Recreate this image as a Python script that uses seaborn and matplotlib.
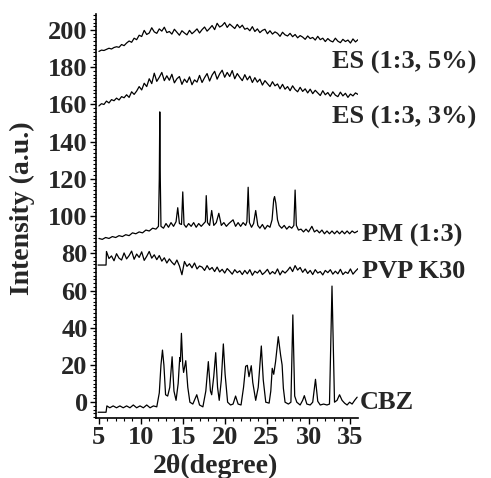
import numpy as np
import pandas as pd
import matplotlib
matplotlib.use("Agg")
import matplotlib.pyplot as plt
import seaborn as sns
from matplotlib.ticker import MultipleLocator

# ES (1:3, 5%) - read every 0.3 deg from 5.0 to 35.9
es5_int = [188.5, 189.2, 189.0, 189.6, 190.2, 189.8, 190.6, 191.0, 190.7, 192.2,
           191.6, 193.0, 194.1, 193.4, 195.6, 194.8, 197.2, 196.5, 199.8, 197.6,
           198.4, 201.2, 199.0, 198.2, 200.6, 199.4, 201.5, 198.6, 199.2, 197.8,
           200.4, 198.8, 197.2, 199.6, 198.4, 197.4, 199.8, 198.0, 199.2, 200.6,
           198.4, 200.2, 201.6, 199.4, 200.8, 202.4, 200.2, 203.6, 201.6, 202.4,
           204.0, 201.4, 203.2, 202.0, 200.8, 203.0, 201.2, 202.6, 200.4, 201.0,
           199.6, 201.8, 199.2, 200.6, 198.6, 199.8, 200.4, 198.0, 199.6, 197.8,
           199.0, 198.2, 196.6, 198.8, 197.4, 196.8, 198.2, 196.4, 197.6, 195.8,
           197.0, 196.2, 195.0, 196.8, 195.4, 196.0, 194.6, 196.6, 194.8, 195.6,
           193.8, 195.4, 194.2, 193.6, 195.6, 194.0, 193.2, 195.0, 193.8, 194.6,
           193.0, 195.2, 193.6, 194.8]

# ES (1:3, 3%) - same grid
es3_int = [159.2, 160.4, 160.0, 161.8, 160.8, 162.6, 162.0, 163.4, 162.4, 164.2,
           163.6, 165.2, 163.8, 166.8, 165.4, 167.2, 169.6, 167.8, 171.4, 169.6,
           173.8, 171.2, 176.8, 172.4, 174.6, 177.2, 172.8, 175.4, 173.0, 176.2,
           171.6, 173.8, 175.0, 170.8, 173.6, 171.8, 174.8, 170.6, 173.2, 172.0,
           175.6, 171.8, 174.4, 176.6, 172.6, 175.8, 177.8, 173.6, 176.4, 178.4,
           174.6, 177.2, 175.0, 178.2, 173.8, 176.6, 174.6, 172.8, 176.0, 173.2,
           175.2, 171.8, 174.4, 172.0, 173.6, 170.4, 172.8, 171.2, 169.6, 172.2,
           170.0, 171.0, 168.4, 170.8, 168.2, 169.6, 167.4, 170.0, 168.0, 166.8,
           169.2, 167.0, 168.4, 166.2, 168.2, 165.8, 167.6, 166.2, 164.8, 167.4,
           165.2, 166.4, 164.4, 166.8, 165.0, 164.2, 166.6, 164.6, 166.0, 163.8,
           165.6, 164.6, 166.2, 165.4]

# PVP K30 - flat lead-in, then every 0.3 deg from 5.9 to 35.9
pvp_lead_x = [4.9, 5.85]
pvp_lead_int = [73.7, 73.7]
pvp_int = [81.0, 77.2, 78.6, 76.0, 79.8, 77.4, 76.4, 80.2, 77.0, 78.8,
           81.2, 76.8, 79.6, 77.8, 80.8, 76.2, 78.4, 81.0, 77.4, 79.2,
           76.6, 78.8, 75.8, 77.6, 74.8, 77.0, 75.2, 73.8, 76.4, 73.2,
           68.5, 75.6, 73.0, 74.4, 72.2, 74.8, 71.6, 73.2, 72.6, 70.8,
           73.4, 71.2, 72.4, 70.2, 72.6, 70.0, 71.4, 69.4, 71.8, 70.4,
           68.8, 71.2, 69.6, 70.6, 68.6, 70.8, 69.0, 71.2, 68.2, 70.4,
           69.4, 71.0, 68.6, 69.8, 71.4, 68.8, 70.2, 69.0, 71.6, 68.4,
           70.6, 69.4, 70.8, 72.6, 70.2, 73.4, 71.0, 72.4, 69.8, 71.6,
           69.2, 70.8, 68.6, 71.2, 69.4, 70.2, 68.4, 70.8, 69.6, 71.2,
           68.8, 70.4, 69.0, 71.4, 68.6, 70.0, 69.2, 71.6, 68.8, 70.4,
           71.8]

# PM (1:3)
pm_x = [5.0, 5.4, 5.8, 6.2, 6.6, 7.0, 7.4, 7.8, 8.2, 8.6,
        9.0, 9.4, 9.8, 10.2, 10.6, 11.0, 11.4, 11.8, 12.1, 12.2,
        12.26, 12.32, 12.4, 12.7, 13.0, 13.3, 13.6, 13.9, 14.2, 14.4,
        14.6, 14.85, 15.0, 15.15, 15.4, 15.7, 16.0, 16.3, 16.6, 16.9,
        17.2, 17.5, 17.7, 17.8, 17.95, 18.2, 18.45, 18.7, 19.0, 19.3,
        19.6, 19.9, 20.2, 20.5, 21.0, 21.3, 21.6, 21.9, 22.2, 22.5,
        22.65, 22.8, 22.95, 23.2, 23.45, 23.7, 23.95, 24.2, 24.5, 24.8,
        25.1, 25.4, 25.65, 25.85, 25.95, 26.1, 26.3, 26.5, 26.8, 27.1,
        27.4, 27.7, 28.0, 28.25, 28.4, 28.55, 28.8, 29.1, 29.4, 29.7,
        30.0, 30.4, 30.7, 31.0, 31.3, 31.6, 31.9, 32.2, 32.5, 32.8,
        33.1, 33.4, 33.7, 34.0, 34.3, 34.6, 34.9, 35.2, 35.5, 35.9]
pm_int = [88.0, 87.5, 88.5, 88.0, 89.0, 88.5, 89.5, 89.0, 90.0, 89.5,
          91.0, 90.5, 91.5, 91.0, 92.5, 92.0, 93.5, 93.0, 94.5, 120.0,
          156.0, 120.0, 94.5, 93.5, 96.0, 94.0, 96.5, 94.5, 97.0, 104.5,
          96.0, 95.5, 113.0, 95.5, 94.0, 96.0, 94.5, 96.5, 94.0, 96.0,
          94.5, 96.0, 97.0, 111.0, 96.5, 95.0, 103.0, 95.0, 96.5, 101.5,
          95.0, 96.5, 94.5, 96.0, 98.0, 94.5, 96.5, 94.5, 96.5, 95.0,
          97.0, 115.5, 96.5, 94.0, 96.0, 103.0, 95.0, 93.5, 95.5, 93.0,
          95.0, 94.0, 98.0, 109.0, 110.5, 107.0, 98.0, 95.0, 93.5, 95.0,
          93.0, 94.5, 93.5, 95.0, 114.0, 95.0, 92.5, 93.0, 91.5, 93.0,
          91.5, 94.5, 91.5, 92.5, 91.0, 92.5, 90.5, 92.0, 90.5, 92.0,
          90.5, 92.0, 90.5, 92.0, 90.5, 92.0, 90.5, 92.0, 91.0, 92.0]

# CBZ
cbz_x = [4.9, 5.85, 5.95, 6.3, 6.7, 7.1, 7.5, 7.9, 8.3, 8.7,
         9.1, 9.5, 9.9, 10.3, 10.7, 11.1, 11.5, 11.9, 12.2, 12.4,
         12.58, 12.75, 12.95, 13.2, 13.45, 13.73, 13.95, 14.2, 14.45, 14.64,
         14.72, 14.84, 15.0, 15.1, 15.36, 15.6, 15.85, 16.2, 16.67, 17.0,
         17.4, 17.75, 18.05, 18.3, 18.45, 18.7, 18.93, 19.15, 19.35, 19.6,
         19.84, 20.05, 20.35, 20.7, 21.0, 21.3, 21.6, 21.95, 22.25, 22.5,
         22.7, 22.9, 23.17, 23.35, 23.7, 24.0, 24.37, 24.6, 24.9, 25.3,
         25.5, 25.67, 25.85, 26.07, 26.39, 26.67, 26.85, 27.0, 27.2, 27.6,
         27.9, 28.13, 28.35, 28.6, 29.0, 29.3, 29.5, 29.8, 30.2, 30.5,
         30.83, 31.1, 31.4, 31.8, 32.2, 32.5, 32.8, 33.1, 33.4, 33.7,
         34.0, 34.3, 34.6, 34.9, 35.2, 35.5, 35.8]
cbz_int = [-5.4, -5.4, -2.0, -3.0, -2.0, -3.0, -2.0, -3.0, -2.0, -3.0,
           -1.5, -3.0, -2.0, -3.0, -1.5, -3.0, -2.0, -2.5, 5.0, 20.0,
           28.0, 20.0, 4.0, 3.3, 8.0, 24.4, 6.0, 1.0, 10.0, 24.0,
           22.0, 37.0, 20.0, 16.0, 22.3, 8.0, 0.0, -1.0, 4.0, -1.5,
           -2.5, 6.0, 21.8, 6.0, 4.0, 14.0, 26.6, 8.0, 1.0, 12.0,
           31.3, 15.0, 0.0, -1.5, -1.0, 3.3, -1.0, -1.5, 8.0, 19.3,
           19.8, 13.7, 19.6, 10.6, 1.0, 8.0, 30.2, 12.0, 0.0, -0.5,
           6.0, 18.2, 15.0, 21.8, 35.2, 25.3, 20.0, 7.5, 0.0, -1.0,
           0.0, 46.9, 3.3, 0.0, -1.5, 1.0, 3.5, -1.0, -1.5, 0.0,
           12.3, 0.5, -1.5, -1.0, -1.5, -1.0, 62.4, 0.0, 1.0, 4.0,
           1.0, -0.5, -1.5, 0.0, -1.0, 1.0, 2.7]

sample_names = ["ES (1:3, 5%)", "ES (1:3, 3%)", "PM (1:3)", "PVP K30", "CBZ"]

es_x = np.linspace(5.0, 35.9, len(es5_int))
pvp_x = np.concatenate([pvp_lead_x, np.linspace(5.9, 35.9, len(pvp_int))])

frames = [
    pd.DataFrame({"two_theta": es_x, "intensity": es5_int, "sample": sample_names[0]}),
    pd.DataFrame({"two_theta": es_x, "intensity": es3_int, "sample": sample_names[1]}),
    pd.DataFrame({"two_theta": pm_x, "intensity": pm_int, "sample": sample_names[2]}),
    pd.DataFrame({"two_theta": pvp_x, "intensity": pvp_lead_int + pvp_int, "sample": sample_names[3]}),
    pd.DataFrame({"two_theta": cbz_x, "intensity": cbz_int, "sample": sample_names[4]}),
]
df = pd.concat(frames, ignore_index=True)

sns.set_style("ticks")
plt.rcParams["font.family"] = ["Liberation Serif", "DejaVu Serif"]
plt.rcParams["font.weight"] = "bold"

fig = plt.figure(figsize=(4.91, 4.78), dpi=100)
ax = fig.add_axes([0.1955, 0.1255, 0.5336, 0.8452])

sns.lineplot(data=df, x="two_theta", y="intensity", units="sample", estimator=None,
             sort=False, color="black", linewidth=0.9, ax=ax)

ax.set_xlim(4.65, 35.9)
ax.set_ylim(-8.5, 208.6)
ax.xaxis.set_major_locator(MultipleLocator(5))
ax.xaxis.set_minor_locator(MultipleLocator(1))
ax.yaxis.set_major_locator(MultipleLocator(20))
ax.yaxis.set_minor_locator(MultipleLocator(2))
ax.tick_params(which="major", direction="out", length=4, width=1, labelsize=19, pad=2, color="black")
ax.tick_params(which="minor", direction="out", length=2.5, width=0.8, color="black")
sns.despine(ax=ax)
for s in ["left", "bottom"]:
    ax.spines[s].set_color("black")
    ax.spines[s].set_linewidth(1.2)

ax.set_xlabel("2θ(degree)", fontsize=20, fontweight="bold")
ax.set_ylabel("Intensity (a.u.)", fontsize=20, fontweight="bold")
ax.xaxis.set_label_coords(0.458, -0.088)
ax.yaxis.set_label_coords(-0.233, 0.52)

# sample labels at the right of each trace
label_x = [32.77, 32.77, 36.35, 36.35, 36.1]
label_y = [182.8, 153.2, 89.8, 70.0, 0.1]
for name, lx, ly in zip(sample_names, label_x, label_y):
    ax.text(lx, ly, name, fontsize=19, fontweight="bold", ha="left", va="center",
            clip_on=False)

fig.savefig("out.png", dpi=100)
